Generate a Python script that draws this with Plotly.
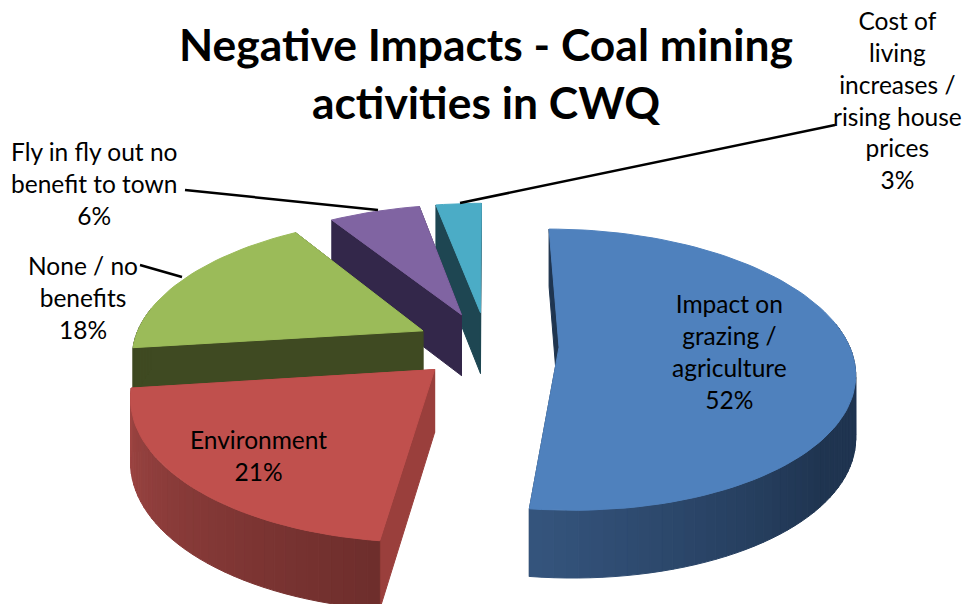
import math
import plotly.graph_objects as go

categories = ["Impact on grazing / agriculture", "Environment", "None / no benefits",
              "Fly in fly out no benefit to town", "Cost of living increases / rising house prices"]
values = [52, 21, 18, 6, 3]
top_colors = ["#4F81BD", "#C0504D", "#9BBB59", "#8064A2", "#4BACC6"]
cut_colors = ["#1F3550", "#9A3F3C", "#3F4A22", "#33274A", "#1E4652"]
wall_light = ["#35557E", "#A04644", "#3F4A22", "#33274A", "#1E4652"]
wall_dark = ["#1F3450", "#6E2E2C", "#3F4A22", "#33274A", "#1E4652"]
draw_order = [4, 3, 2, 0, 1]

R, K, KY, DEPTH, PULL = 290.0, 0.16, 0.47, 62.0, 72.0
X0, Y0 = 487.0, 345.0


def project(x, y, z=0.0):
    f = 1.0 / (1.0 + K * y / R)
    return X0 + x * f, Y0 - y * KY * f + z * f ** 0.5


def mix(c1, c2, t):
    a = [int(c1[i:i + 2], 16) for i in (1, 3, 5)]
    b = [int(c2[i:i + 2], 16) for i in (1, 3, 5)]
    return "#%02x%02x%02x" % tuple(round(a[i] + (b[i] - a[i]) * t) for i in range(3))


total = sum(values)
fig = go.Figure()


def poly(pts, color):
    fig.add_trace(go.Scatter(x=[p[0] for p in pts] + [pts[0][0]], y=[p[1] for p in pts] + [pts[0][1]],
                             mode="lines", fill="toself", fillcolor=color,
                             line=dict(color=color, width=1), hoverinfo="skip", showlegend=False))


starts = [sum(values[:i]) / total * 360 for i in range(len(values))]
for i in draw_order:
    a0 = starts[i]
    a1 = a0 + values[i] / total * 360
    mid = math.radians((a0 + a1) / 2)
    ax, ay = PULL * math.sin(mid), PULL * math.cos(mid)

    def rim(deg):
        t = math.radians(deg)
        return ax + R * math.sin(t), ay + R * math.cos(t)

    # cut faces
    for edge in (a1, a0):
        ex, ey = rim(edge)
        poly([project(ax, ay), project(ex, ey), project(ex, ey, DEPTH), project(ax, ay, DEPTH)], cut_colors[i])
    # outer wall (front half only)
    w0, w1 = max(a0, 80), min(a1, 280)
    if w1 > w0:
        n = max(4, int((w1 - w0) / 2))
        for j in range(n):
            d0 = w0 + (w1 - w0) * j / n
            d1 = w0 + (w1 - w0) * (j + 1) / n
            p0, p1 = rim(d0), rim(d1)
            t = min(1.0, (a1 - d0) / 60) if i == 0 else 1 - (d0 - a0) / (a1 - a0)
            color = mix(wall_light[i], wall_dark[i], t)
            poly([project(*p0), project(*p1), project(*p1, DEPTH), project(*p0, DEPTH)], color)
    # top face
    n = max(6, int((a1 - a0) / 2))
    pts = [project(ax, ay)] + [project(*rim(a0 + (a1 - a0) * j / n)) for j in range(n + 1)]
    poly(pts, top_colors[i])

FONT = "Lato"
fig.add_shape(type="line", x0=185, y0=190, x1=378, y1=210, line=dict(color="black", width=2.5))
fig.add_shape(type="line", x0=460, y0=203, x1=835, y1=125, line=dict(color="black", width=2.5))
fig.add_shape(type="line", x0=140, y0=265, x1=182, y1=277, line=dict(color="black", width=2.5))

labels = [
    (729, 351, "Impact on<br>grazing /<br>agriculture<br>52%"),
    (258, 455, "Environment<br>21%"),
    (83, 297, "None / no<br>benefits<br>18%"),
    (94, 183, "Fly in fly out no<br>benefit to town<br>6%"),
    (897, 100, "Cost of<br>living<br>increases /<br>rising house<br>prices<br>3%"),
]
for x, y, text in labels:
    fig.add_annotation(x=x, y=y, text=text, showarrow=False, xanchor="center", yanchor="middle",
                       font=dict(family=FONT, size=24.5, color="black"))
fig.add_annotation(x=486, y=72, text="<b>Negative Impacts - Coal mining<br>activities in CWQ</b>", showarrow=False,
                   xanchor="center", yanchor="middle", font=dict(family=FONT, size=44.4, color="black"))

fig.update_layout(width=966, height=604, margin=dict(l=0, r=0, t=0, b=0), paper_bgcolor="white",
                  plot_bgcolor="white", showlegend=False,
                  xaxis=dict(range=[0, 966], visible=False, fixedrange=True),
                  yaxis=dict(range=[604, 0], visible=False, fixedrange=True))
fig.write_html("out.html", config={"displayModeBar": False},
               post_script="document.body.style.margin='0';document.body.style.overflow='hidden';")
